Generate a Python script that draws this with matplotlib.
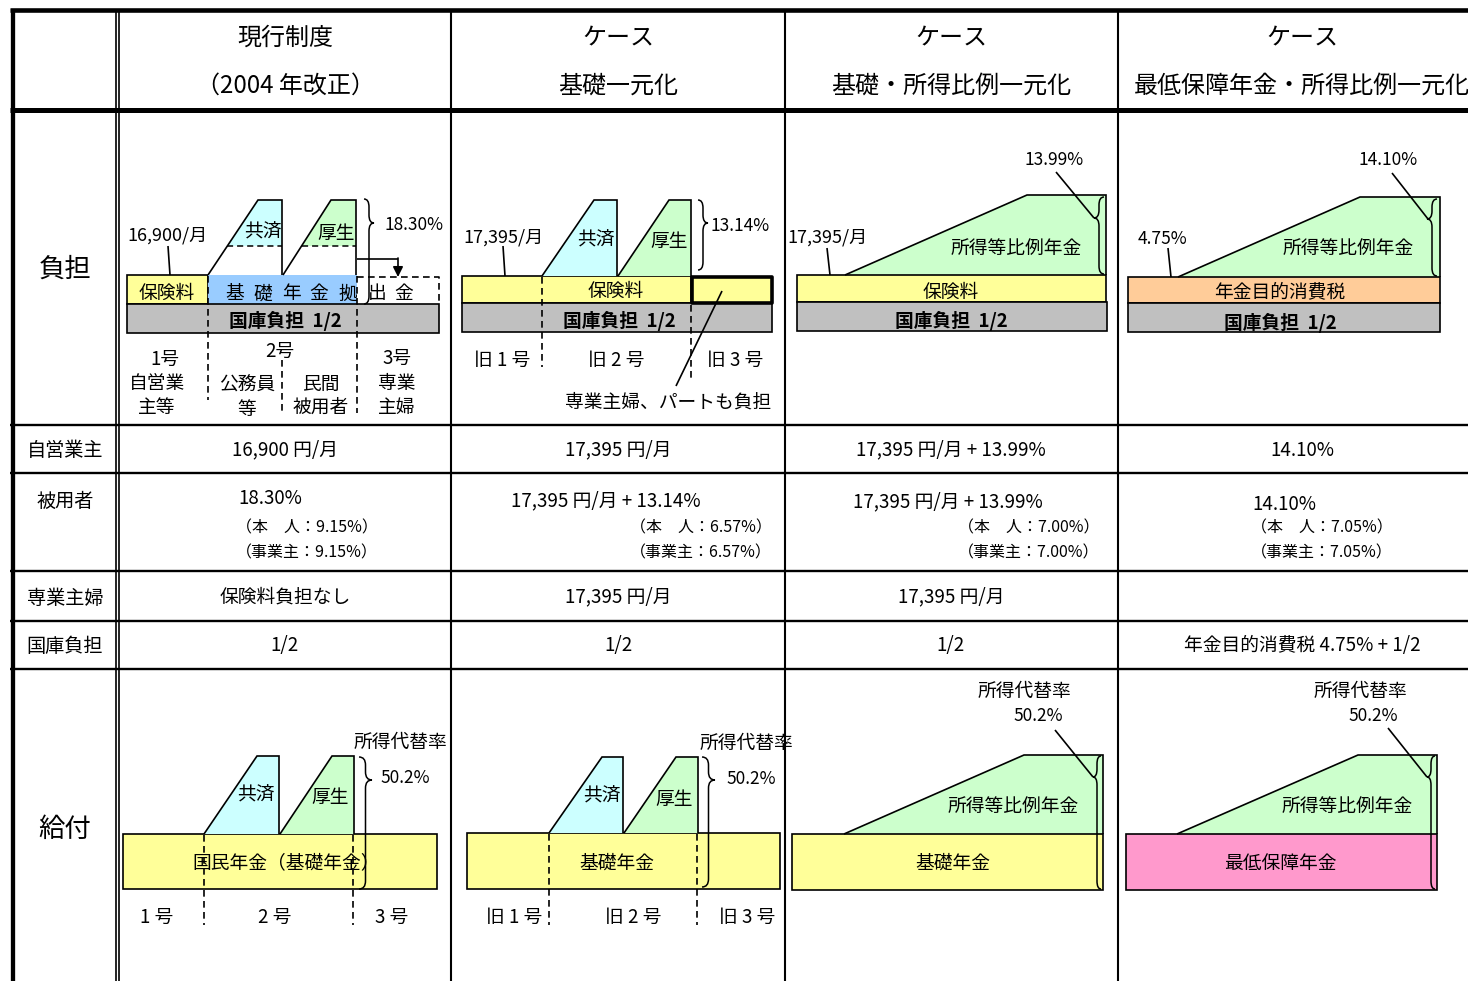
import matplotlib
matplotlib.use("Agg")
import matplotlib.pyplot as plt
from matplotlib.patches import Rectangle, Polygon, PathPatch
from matplotlib.path import Path

plt.rcParams['font.family'] = ['Noto Sans CJK JP', 'DejaVu Sans']

# ---------------- data ----------------
header_top = ["現行制度", "ケース", "ケース", "ケース"]
header_bottom = ["（2004 年改正）", "基礎一元化", "基礎・所得比例一元化", "最低保障年金・所得比例一元化"]
section_labels = ["負担", "給付"]
row_labels = ["自営業主", "被用者", "専業主婦", "国庫負担"]

flat_premium = [16900, 17395, 17395]          # 円/月
employee_rate = [18.30, 13.14, 13.99, 14.10]  # %
employee_share = [9.15, 6.57, 7.00, 7.05]     # 本人
employer_share = [9.15, 6.57, 7.00, 7.05]     # 事業主
consumption_tax = 4.75                        # %
replacement_rate = [50.2, 50.2, 50.2, 50.2]   # 所得代替率 %

group_labels_now = ["1 号", "2 号", "3 号"]
group_labels_old = ["旧 1 号", "旧 2 号", "旧 3 号"]

# ---------------- styles ----------------
YELLOW = "#FFFF99"
BLUE = "#99CCFF"
CYAN = "#CCFFFF"
GREEN = "#CCFFCC"
GRAY = "#C0C0C0"
ORANGE = "#FFCC99"
PINK = "#FF99CC"
DASH = (0, (4, 2.6))
FS = 13.5      # body text size
FS_NUM = 12.5  # numeric callouts in the diagrams
FS_SMALL = 11.5
Y_SHIFT = 2.0  # baseline nudge for CJK glyph boxes

W, H = 1468, 981
fig = plt.figure(figsize=(W / 100, H / 100), dpi=100)
ax = fig.add_axes([0, 0, 1, 1])
ax.set_xlim(0, W)
ax.set_ylim(H, 0)
ax.axis("off")


def txt(x, y, s, size=FS, ha="center", va="center", weight="normal"):
    ax.text(x, y + Y_SHIFT, s, fontsize=size, ha=ha, va=va, fontweight=weight, zorder=6)


def line(xs, ys, lw=1.2, ls="-", z=4, color="black"):
    ax.plot(xs, ys, color=color, lw=lw, ls=ls, zorder=z, solid_capstyle="butt",
            solid_joinstyle="miter")


def rect(x0, y0, x1, y1, fc, ec="black", lw=1.2, z=2, join="miter"):
    ax.add_patch(Rectangle((x0, y0), x1 - x0, y1 - y0, facecolor=fc, edgecolor=ec,
                           lw=lw, zorder=z, joinstyle=join))


def step_block(x0, xt, x1, base, top, fc, split=None):
    """Sloped block sitting on a bar: slope from (x0, base) to (xt, top)."""
    if split is None:
        ax.add_patch(Polygon([(x0, base), (xt, top), (x1, top), (x1, base)],
                             closed=True, facecolor=fc, edgecolor="none", zorder=2))
    else:
        xs = x0 + (xt - x0) * (base - split) / (base - top)
        ax.add_patch(Polygon([(xs, split), (xt, top), (x1, top), (x1, split)],
                             closed=True, facecolor=fc, edgecolor="none", zorder=2))
        line([xs, x1], [split, split], lw=1.1, ls=DASH)
    line([x0, xt, x1, x1], [base, top, top, base])


def slope_block(x0, xt, x1, base, top, fc):
    ax.add_patch(Polygon([(x0, base), (xt, top), (x1, top), (x1, base)],
                         closed=True, facecolor=fc, edgecolor="none", zorder=2))
    line([x0, xt, x1, x1], [base, top, top, base])


def brace(x, y0, y1, ym, d, w, lw=1.1):
    h = w / 2.0
    r = min(8.0, (ym - y0) / 2.0, (y1 - ym) / 2.0)
    verts = [(x, y0), (x + d * h, y0), (x + d * h, y0 + r),
             (x + d * h, ym - r),
             (x + d * h, ym), (x + d * w, ym),
             (x + d * h, ym), (x + d * h, ym + r),
             (x + d * h, y1 - r),
             (x + d * h, y1), (x, y1)]
    codes = [Path.MOVETO, Path.CURVE3, Path.CURVE3, Path.LINETO, Path.CURVE3, Path.CURVE3,
             Path.CURVE3, Path.CURVE3, Path.LINETO, Path.CURVE3, Path.CURVE3]
    ax.add_patch(PathPatch(Path(verts, codes), facecolor="none", edgecolor="black",
                           lw=lw, zorder=5))


def vdash(x, y0, y1):
    line([x, x], [y0, y1], lw=1.2, ls=DASH, z=5)


# ---------------- table grid ----------------
col_x = [119, 451, 785, 1118, 1486]
col_c = [285, 618, 951, 1302]
row_y = [425, 473, 571, 621, 669]

line([10, W], [10.3, 10.3], lw=3.3)
line([10, W], [110, 110], lw=3.6)
line([12.8, 12.8], [8.5, H], lw=3.1)
line([115.8, 115.8], [10, H], lw=1.2)
line([118.8, 118.8], [10, H], lw=1.2)
for x in col_x[1:4]:
    line([x, x], [10, H], lw=1.5)
for y in row_y:
    line([10, W], [y, y], lw=1.7)

# header
for c, t, b in zip(col_c, header_top, header_bottom):
    txt(c, 36, t, size=17.3)
    txt(c, 84, b, size=17.3)

txt(65, 267, section_labels[0], size=19)
txt(65, 827, section_labels[1], size=19)
for y, lab in zip([449, 499, 596, 645], row_labels):
    txt(65, y, lab, size=13.8)

# ---------------- table cells ----------------
p0, p1, p2 = flat_premium
r0, r1, r2, r3 = employee_rate
self_employed = [f"{p0:,} 円/月", f"{p1:,} 円/月", f"{p2:,} 円/月 + {r2:.2f}%", f"{r3:.2f}%"]
employee_main = [f"{r0:.2f}%", f"{p1:,} 円/月 + {r1:.2f}%", f"{p2:,} 円/月 + {r2:.2f}%", f"{r3:.2f}%"]
housewife = ["保険料負担なし", f"{p1:,} 円/月", f"{p2:,} 円/月", ""]
treasury = ["1/2", "1/2", "1/2", f"年金目的消費税 {consumption_tax:.2f}% + 1/2"]

for c, s in zip(col_c, self_employed):
    txt(c, 448, s)
for c, s in zip(col_c, housewife):
    txt(c, 595, s)
for c, s in zip(col_c, treasury):
    txt(c, 644, s)

main_pos = [(238, "left"), (606, "center"), (948, "center"), (1252, "left")]
sub_left = [236, 630, 958, 1251]
main_y = [497, 499, 500, 502]
for i in range(4):
    x, ha = main_pos[i]
    txt(x, main_y[i], employee_main[i], ha=ha)
    txt(sub_left[i], 526, f"（本　人：{employee_share[i]:.2f}%）", size=FS_SMALL, ha="left")
    txt(sub_left[i], 551, f"（事業主：{employer_share[i]:.2f}%）", size=FS_SMALL, ha="left")

# ---------------- 負担: current system ----------------
rect(127, 275, 208, 304, YELLOW)
rect(208, 275, 357, 304, BLUE, ec="none")
line([357, 439, 439], [276.5, 276.5, 304], lw=1.2, ls=DASH)
rect(127, 304, 439, 333, GRAY)
step_block(208, 258, 282, 275, 200, CYAN, split=246)
step_block(283, 331, 356, 275, 200, GREEN, split=246)
txt(263, 230, "共済")
txt(336, 232, "厚生")
txt(167, 291, "保険料")
for ch, x in zip("基礎年金拠出金", [235, 263, 291, 319, 348, 377, 404]):
    txt(x, 292, ch)
txt(285, 319, "国庫負担  1/2", weight="bold")
brace(364, 199, 304, 223, 1, 10)
txt(384, 223, f"{employee_rate[0]:.2f}%", size=FS_NUM, ha="left")
line([357, 398], [259, 259])
ax.annotate("", xy=(398, 277), xytext=(398, 258),
            arrowprops=dict(arrowstyle="-|>,head_length=0.6,head_width=0.3", color="black",
                            lw=1.2, shrinkA=0, shrinkB=0), zorder=5)
txt(167, 234, f"{p0:,}/月", size=13)
line([168, 170], [246, 275])
vdash(208, 276, 400)
vdash(357, 276, 413)
vdash(282, 360, 413)
txt(165, 357, group_labels_now[0].replace(" ", ""))
txt(157, 382, "自営業")
txt(157, 406, "主等")
txt(280, 349, group_labels_now[1].replace(" ", ""))
txt(247, 383, "公務員")
txt(247, 407, "等")
txt(321, 382, "民間")
txt(321, 405, "被用者")
txt(397, 356, group_labels_now[2].replace(" ", ""))
txt(397, 382, "専業")
txt(397, 405, "主婦")

# ---------------- 負担: basic pension unified ----------------
rect(462, 276, 691, 303, YELLOW)
rect(692, 277, 772, 303, YELLOW, lw=2.6, z=3, join="round")
rect(462, 303, 772, 332, GRAY)
step_block(542, 594, 617, 276, 200, CYAN)
step_block(618, 669, 691, 276, 200, GREEN)
txt(596, 238, "共済")
txt(669, 239, "厚生")
txt(616, 289, "保険料")
txt(619, 319, "国庫負担  1/2", weight="bold")
brace(698, 200, 270, 223, 1, 10)
txt(710, 224, f"{employee_rate[1]:.2f}%", size=FS_NUM, ha="left")
txt(503, 235, f"{p1:,}/月", size=13)
line([503, 505], [246, 276])
vdash(542, 277, 367)
vdash(691, 305, 380)
for x, s in zip([502, 616, 735], group_labels_old):
    txt(x, 358, s)
line([722, 676], [291, 386])
txt(668, 400, "専業主婦、パートも負担")

# ---------------- 負担: basic + earnings-related unified ----------------
slope_block(845, 1027, 1106, 275, 195, GREEN)
rect(797, 275, 1106, 302, YELLOW)
rect(797, 302, 1107, 331, GRAY)
brace(1104, 197, 274, 218, -1, 10)
line([1056, 1094], [172, 218])
txt(1054, 158, f"{employee_rate[2]:.2f}%", size=FS_NUM)
txt(827, 235, f"{p2:,}/月", size=13)
line([827, 830], [248, 275])
txt(1016, 246, "所得等比例年金")
txt(951, 290, "保険料")
txt(951, 319, "国庫負担  1/2", weight="bold")

# ---------------- 負担: minimum guarantee + earnings-related ----------------
slope_block(1178, 1360, 1440, 277, 197, GREEN)
rect(1128, 277, 1440, 303, ORANGE)
rect(1128, 303, 1440, 332, GRAY)
brace(1437, 199, 276, 219, -1, 10)
line([1392, 1428], [173, 219])
txt(1388, 158, f"{employee_rate[3]:.2f}%", size=FS_NUM)
txt(1162, 237, f"{consumption_tax:.2f}%", size=FS_NUM)
line([1168, 1171], [248, 277])
txt(1348, 246, "所得等比例年金")
txt(1280, 290, "年金目的消費税")
txt(1280, 321, "国庫負担  1/2", weight="bold")

# ---------------- 給付: current system ----------------
rect(123, 834, 437, 889, YELLOW)
step_block(204, 257, 279, 834, 756, CYAN)
step_block(280, 332, 354, 834, 756, GREEN)
txt(256, 793, "共済")
txt(330, 796, "厚生")
txt(286, 861, "国民年金（基礎年金）")
brace(359, 757, 889, 780, 1, 13)
txt(380, 776, f"{replacement_rate[0]:.1f}%", size=FS_NUM, ha="left")
txt(400, 740, "所得代替率")
vdash(204, 835, 925)
vdash(353, 835, 925)
for x, s in zip([157, 275, 392], group_labels_now):
    txt(x, 915, s)

# ---------------- 給付: basic pension unified ----------------
rect(467, 833, 780, 889, YELLOW)
step_block(549, 602, 623, 833, 757, CYAN)
step_block(624, 676, 698, 833, 757, GREEN)
txt(602, 794, "共済")
txt(674, 797, "厚生")
txt(617, 861, "基礎年金")
brace(702, 757, 887, 780, 1, 13)
txt(726, 777, f"{replacement_rate[1]:.1f}%", size=FS_NUM, ha="left")
txt(746, 741, "所得代替率")
vdash(549, 834, 925)
vdash(697, 834, 925)
for x, s in zip([514, 633, 747], group_labels_old):
    txt(x, 915, s)

# ---------------- 給付: basic + earnings-related unified ----------------
slope_block(844, 1024, 1103, 834, 755, GREEN)
rect(792, 834, 1103, 890, YELLOW)
brace(1101, 756, 889, 777, -1, 8)
line([1055, 1093], [730, 777])
txt(1038, 714, f"{replacement_rate[2]:.1f}%", size=FS_NUM)
txt(1024, 689, "所得代替率")
txt(1013, 804, "所得等比例年金")
txt(953, 861, "基礎年金")

# ---------------- 給付: minimum guarantee + earnings-related ----------------
slope_block(1177, 1358, 1437, 834, 755, GREEN)
rect(1126, 834, 1437, 890, PINK)
brace(1435, 756, 889, 777, -1, 8)
line([1388, 1427], [728, 777])
txt(1373, 714, f"{replacement_rate[3]:.1f}%", size=FS_NUM)
txt(1360, 689, "所得代替率")
txt(1347, 804, "所得等比例年金")
txt(1280, 861, "最低保障年金")

fig.savefig("out.png", dpi=100, facecolor="white")
